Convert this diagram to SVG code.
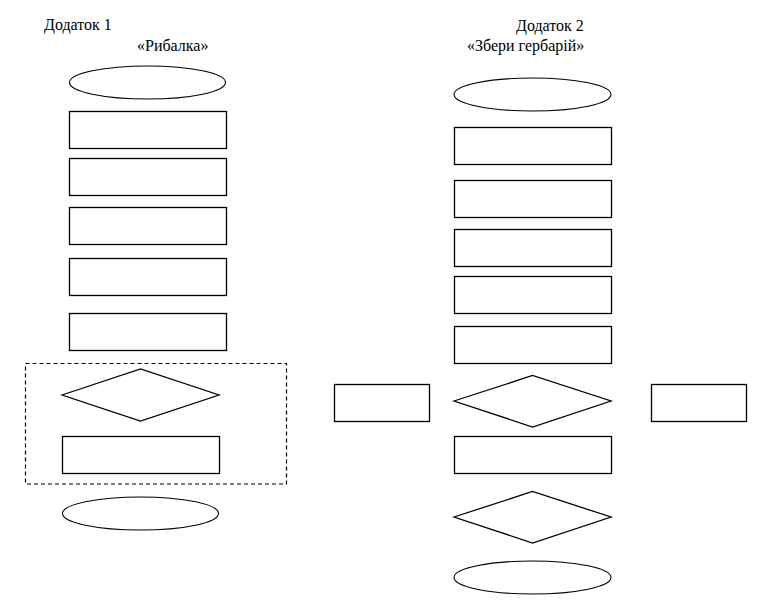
<svg xmlns="http://www.w3.org/2000/svg" width="780" height="605" viewBox="0 0 780 605">
<style>
.s{fill:#fff;stroke:#000;stroke-width:1.3}
.e{fill:#fff;stroke:#000;stroke-width:1.1}
.d{fill:none;stroke:#000;stroke-width:1.2;stroke-dasharray:4 3}
.t{font-family:"Liberation Serif","Times New Roman",serif;font-size:16px;fill:#000}
</style>
<rect width="780" height="605" fill="#fff"/>
<g id="titles">
<text class="t" x="44" y="30">Додаток 1</text>
<text class="t" x="137" y="51">«Рибалка»</text>
<text class="t" x="516" y="31">Додаток 2</text>
<text class="t" x="467" y="51">«Збери гербарій»</text>
</g>
<g id="connectors"></g>
<g id="loop-frame"><rect class="d" x="25.5" y="363.5" width="261" height="120.5"/></g>
<g id="l-start"><ellipse class="e" cx="147.5" cy="82.5" rx="78" ry="16.5"/></g>
<g id="l-r1"><rect class="s" x="69.5" y="111.5" width="157" height="37"/></g>
<g id="l-r2"><rect class="s" x="69.5" y="158.5" width="157" height="37"/></g>
<g id="l-r3"><rect class="s" x="69.5" y="207.5" width="157" height="37"/></g>
<g id="l-r4"><rect class="s" x="69.5" y="258.5" width="157" height="37"/></g>
<g id="l-r5"><rect class="s" x="69.5" y="313.5" width="157" height="37"/></g>
<g id="l-dec"><polygon class="s" points="62,395 140.5,369 219,395 140.5,421"/></g>
<g id="l-r6"><rect class="s" x="62.5" y="436.5" width="157" height="37"/></g>
<g id="l-end"><ellipse class="e" cx="140.5" cy="513.5" rx="78" ry="16.5"/></g>
<g id="side-left"><rect class="s" x="334.5" y="384.5" width="95" height="37"/></g>
<g id="r-start"><ellipse class="e" cx="532.5" cy="94.5" rx="78.5" ry="16.5"/></g>
<g id="r-r1"><rect class="s" x="454.5" y="127.5" width="157" height="37"/></g>
<g id="r-r2"><rect class="s" x="454.5" y="180.5" width="157" height="37"/></g>
<g id="r-r3"><rect class="s" x="454.5" y="229.5" width="157" height="37"/></g>
<g id="r-r4"><rect class="s" x="454.5" y="276.5" width="157" height="37"/></g>
<g id="r-r5"><rect class="s" x="454.5" y="326.5" width="157" height="37"/></g>
<g id="r-dec1"><polygon class="s" points="454,401 532.5,375.5 611,401 532.5,427"/></g>
<g id="r-r6"><rect class="s" x="454.5" y="436.5" width="157" height="37"/></g>
<g id="r-dec2"><polygon class="s" points="454,517 532.5,491.5 611,517 532.5,543"/></g>
<g id="r-end"><ellipse class="e" cx="532.5" cy="577.5" rx="78.5" ry="16.5"/></g>
<g id="side-right"><rect class="s" x="651.5" y="384.5" width="95" height="37"/></g>
</svg>
